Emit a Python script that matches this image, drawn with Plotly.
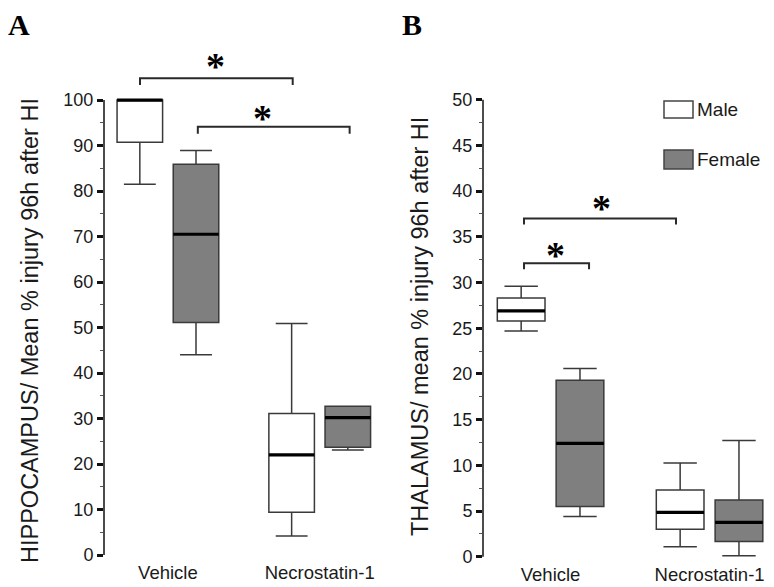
import plotly.graph_objects as go

# groups / sexes
groups = ["Vehicle", "Necrostatin-1"]
sexes = ["Male", "Female"]
# box order: Vehicle-Male, Vehicle-Female, Necrostatin-Male, Necrostatin-Female
box_group = [1, 1, 2, 2]
box_sex = ["Male", "Female", "Male", "Female"]

# Panel A - hippocampus (% injury)
hip_low = [81.5, 44.0, 4.2, 23.1]
hip_q1 = [90.7, 51.1, 9.4, 23.7]
hip_med = [100.0, 70.5, 22.0, 30.2]
hip_q3 = [100.0, 85.9, 31.1, 32.7]
hip_high = [100.0, 88.9, 50.9, 32.7]

# Panel B - thalamus (% injury)
thal_low = [24.7, 4.4, 1.1, 0.1]
thal_q1 = [25.8, 5.5, 3.0, 1.65]
thal_med = [26.9, 12.4, 4.85, 3.75]
thal_q3 = [28.3, 19.3, 7.3, 6.2]
thal_high = [29.6, 20.6, 10.25, 12.7]

# significance brackets: x start, x end, height ; star x, star y
hip_brackets = [(0.816, 1.822, 104.8), (1.197, 2.197, 94.1)]
hip_stars = [(1.316, 108.8), (1.625, 97.4)]
thal_brackets = [(0.833, 1.789, 37.0), (0.833, 1.242, 32.1)]
thal_stars = [(1.318, 38.8), (1.033, 33.7)]

# page is 774x587 but the html body adds an 8px margin (top/left)
PAD = 8
W, H = 774 - 2 * PAD, 587 - PAD
OFFSET = 0.185
BOXW = 0.30
fills = {"Male": "white", "Female": "#7f7f7f"}
LINE = "#3a3a3a"
TXT = "#1a1a1a"
FONT = "Liberation Sans, Arial, sans-serif"
SERIF = "Liberation Serif, Times New Roman, serif"


def px_x(p):
    return (p - PAD) / W


def px_y(p):
    return 1 - (p - PAD) / H


fig = go.Figure()


def add_panel(xa, ya, low, q1, med, q3, high, brackets, drop):
    for i in range(4):
        pos = box_group[i] + (-OFFSET if box_sex[i] == "Male" else OFFSET)
        fig.add_trace(go.Box(
            x=[pos], q1=[q1[i]], median=[med[i]], q3=[q3[i]],
            lowerfence=[low[i]], upperfence=[high[i]],
            width=BOXW, whiskerwidth=0.7, fillcolor=fills[box_sex[i]],
            line=dict(color=LINE, width=1.5), xaxis=xa, yaxis=ya,
            showlegend=False, hoverinfo="skip"))
        # thick black median
        fig.add_trace(go.Scatter(
            x=[pos - BOXW / 2, pos + BOXW / 2], y=[med[i], med[i]], mode="lines",
            line=dict(color="black", width=3.2), xaxis=xa, yaxis=ya,
            showlegend=False, hoverinfo="skip"))
    for x0, x1, yb in brackets:
        fig.add_trace(go.Scatter(
            x=[x0, x0, x1, x1], y=[yb - drop, yb, yb, yb - drop], mode="lines",
            line=dict(color="#2a2a2a", width=2), xaxis=xa, yaxis=ya,
            showlegend=False, hoverinfo="skip"))


add_panel("x", "y", hip_low, hip_q1, hip_med, hip_q3, hip_high, hip_brackets, 1.5)
add_panel("x2", "y2", thal_low, thal_q1, thal_med, thal_q3, thal_high, thal_brackets, 0.65)

# axis geometry (pixels in the 774x587 page)
a_zero, a_ppu, a_x = 555.0, 4.55, 104
b_zero, b_ppu, b_x = 556.7, 9.14, 483
a_range = [-1, 112]
b_range = [-0.5, 51]

xaxis_common = dict(tickvals=[1, 2], ticktext=groups, showline=False, ticks="",
                    showgrid=False, zeroline=False, automargin=False,
                    tickfont=dict(family=FONT, size=18.5, color=TXT))
yaxis_common = dict(showline=False, ticks="outside", ticklen=6, tickwidth=2.5,
                    tickcolor="#111", showgrid=False, zeroline=False, automargin=False,
                    tickfont=dict(family=FONT, size=18, color=TXT))

fig.update_layout(
    width=W, height=H, margin=dict(l=0, r=0, t=0, b=0),
    paper_bgcolor="white", plot_bgcolor="white", showlegend=False,
    xaxis=dict(domain=[px_x(a_x), px_x(385)], range=[0.579, 2.43], anchor="y", **xaxis_common),
    yaxis=dict(domain=[px_y(a_zero - a_range[0] * a_ppu), px_y(a_zero - a_range[1] * a_ppu)],
               range=a_range, anchor="x", tickvals=list(range(0, 101, 10)),
               minor=dict(tickvals=list(range(5, 100, 10)), ticks="outside", ticklen=3,
                          tickwidth=1, tickcolor="#555"),
               **yaxis_common),
    xaxis2=dict(domain=[px_x(b_x), px_x(766)], range=[0.575, 2.355], anchor="y2", **xaxis_common),
    yaxis2=dict(domain=[px_y(b_zero - b_range[0] * b_ppu), px_y(b_zero - b_range[1] * b_ppu)],
                range=b_range, anchor="x2", tickvals=list(range(0, 51, 5)),
                minor=dict(tickvals=[2.5 + 5 * k for k in range(10)], ticks="outside", ticklen=3,
                           tickwidth=1, tickcolor="#555"),
                **yaxis_common),
)

# y axis lines only spanning the tick range
fig.add_shape(type="line", xref="paper", yref="paper", x0=px_x(a_x), x1=px_x(a_x),
              y0=px_y(a_zero), y1=px_y(a_zero - 100 * a_ppu), line=dict(color="#111", width=1.5))
fig.add_shape(type="line", xref="paper", yref="paper", x0=px_x(b_x), x1=px_x(b_x),
              y0=px_y(b_zero), y1=px_y(b_zero - 50 * b_ppu), line=dict(color="#111", width=1.5))

# stars
for xs, ys in hip_stars:
    fig.add_annotation(x=xs, y=ys, xref="x", yref="y", text="<b>*</b>", showarrow=False,
                       yshift=-6, font=dict(family=SERIF, size=38, color="black"))
for xs, ys in thal_stars:
    fig.add_annotation(x=xs, y=ys, xref="x2", yref="y2", text="<b>*</b>", showarrow=False,
                       yshift=-6, font=dict(family=SERIF, size=38, color="black"))

# y titles
fig.add_annotation(x=px_x(30), y=px_y(331), xref="paper", yref="paper", showarrow=False,
                   xanchor="center", yanchor="middle",
                   text="HIPPOCAMPUS/ Mean % injury 96h after HI", textangle=-90,
                   font=dict(family=FONT, size=23.5, color=TXT))
fig.add_annotation(x=px_x(420), y=px_y(327), xref="paper", yref="paper", showarrow=False,
                   xanchor="center", yanchor="middle",
                   text="THALAMUS/ mean % injury 96h after HI", textangle=-90,
                   font=dict(family=FONT, size=23.5, color=TXT))

# panel letters
for letter, lx in [("A", 6), ("B", 400)]:
    fig.add_annotation(x=px_x(lx), y=1, xref="paper", yref="paper", showarrow=False,
                       xanchor="left", yanchor="top", yshift=2, text="<b>%s</b>" % letter,
                       font=dict(family=SERIF, size=30, color="black"))

# legend (panel B)
for sex, y0, y1 in [("Male", 101, 118), ("Female", 150, 169)]:
    fig.add_shape(type="rect", xref="paper", yref="paper", x0=px_x(664), x1=px_x(693),
                  y0=px_y(y1), y1=px_y(y0), fillcolor=fills[sex], line=dict(color="#444", width=1.5))
    fig.add_annotation(x=px_x(695), y=px_y((y0 + y1) / 2), xref="paper", yref="paper",
                       showarrow=False, xanchor="left", yanchor="middle", text=sex,
                       font=dict(family=FONT, size=19, color=TXT))

fig.write_html("out.html")
